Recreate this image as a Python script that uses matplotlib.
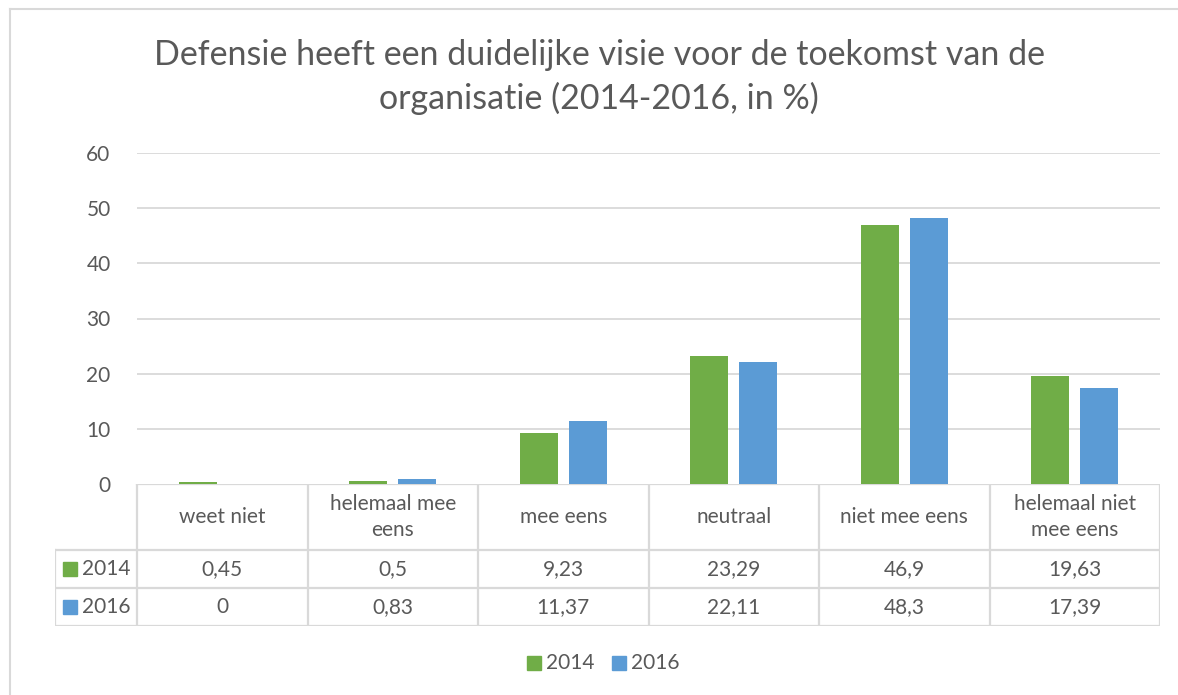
import matplotlib.pyplot as plt
from matplotlib.patches import Rectangle
from matplotlib.lines import Line2D

# Chart data
CATEGORIES = ["weet niet", "helemaal mee\neens", "mee eens", "neutraal",
              "niet mee eens", "helemaal niet\nmee eens"]
SERIES_NAMES = ["2014", "2016"]
VALUES_2014 = [0.45, 0.5, 9.23, 23.29, 46.9, 19.63]
VALUES_2016 = [0, 0.83, 11.37, 22.11, 48.3, 17.39]
LABELS_2014 = ["0,45", "0,5", "9,23", "23,29", "46,9", "19,63"]
LABELS_2016 = ["0", "0,83", "11,37", "22,11", "48,3", "17,39"]
Y_TICKS = [0, 10, 20, 30, 40, 50, 60]

TITLE = "Defensie heeft een duidelijke visie voor de toekomst van de\norganisatie (2014-2016, in %)"
GREEN = "#70ad47"
BLUE = "#5b9bd5"
GRID = "#d9d9d9"
TEXT = "#595959"
FS = 15

plt.rcParams['font.family'] = ['Lato', 'DejaVu Sans']

W, H = 1178, 695
fig = plt.figure(figsize=(W / 100, H / 100), dpi=100)


def fx(px):
    return px / W


def fy(py):
    return 1 - py / H


# chart border (left + top)
fig.add_artist(Line2D([fx(10), fx(10)], [fy(9), 0], color=GRID, lw=1.5))
fig.add_artist(Line2D([fx(10), 1], [fy(9), fy(9)], color=GRID, lw=1.5))

fig.text(fx(599), fy(77), TITLE, ha="center", va="center", fontsize=24.5,
         color=TEXT, linespacing=1.38)

# main plot
ax = fig.add_axes([fx(137), fy(484), fx(1160) - fx(137), fy(153) - fy(484)])
n = len(CATEGORIES)
x = list(range(n))
off = 24.5 / 170.5
bw = 38 / 170.5
ax.bar([i - off for i in x], VALUES_2014, width=bw, color=GREEN, zorder=3)
ax.bar([i + off for i in x], VALUES_2016, width=bw, color=BLUE, zorder=3)
ax.set_xlim(-0.5, n - 0.5)
ax.set_ylim(0, 60)
ax.set_yticks(Y_TICKS)
ax.set_yticklabels([str(t) for t in Y_TICKS], fontsize=FS, color=TEXT)
ax.tick_params(axis="y", length=0, pad=19)
ax.set_xticks([])
for t in Y_TICKS[1:]:
    ax.axhline(t, color=GRID, lw=1.3, zorder=1)
for s in ax.spines.values():
    s.set_visible(False)

# data table below the plot
left_w = 82 / 170.5
tax = fig.add_axes([fx(55), fy(626), fx(1160) - fx(55), fy(484) - fy(626)])
tax.set_xlim(-0.5 - left_w, n - 0.5)
tax.set_ylim(142, 0)
tax.axis("off")
lk = dict(color=GRID, lw=1.6, solid_capstyle="projecting")
# header row top line and vertical lines
tax.plot([-0.5, n - 0.5], [0, 0], **lk)
for b in range(n + 1):
    tax.plot([b - 0.5, b - 0.5], [0, 142], **lk)
for yy in (66, 104, 142):
    tax.plot([-0.5 - left_w, n - 0.5], [yy, yy], **lk)
tax.plot([-0.5 - left_w, -0.5 - left_w], [66, 142], **lk)

for i, cat in enumerate(CATEGORIES):
    tax.text(i, 33, cat, ha="center", va="center", fontsize=FS, color=TEXT,
             linespacing=1.4)
    tax.text(i, 85, LABELS_2014[i], ha="center", va="center", fontsize=FS, color=TEXT)
    tax.text(i, 123, LABELS_2016[i], ha="center", va="center", fontsize=FS, color=TEXT)

for row_y, name, col in ((85, SERIES_NAMES[0], GREEN), (123, SERIES_NAMES[1], BLUE)):
    sx = -0.5 - left_w + 8 / 170.5
    tax.add_patch(Rectangle((sx, row_y - 7), 14 / 170.5, 14, color=col, clip_on=False))
    tax.text(sx + 19 / 170.5, row_y, name, ha="left", va="center", fontsize=FS, color=TEXT)

# legend at bottom
for lx, name, col in ((527, SERIES_NAMES[0], GREEN), (612, SERIES_NAMES[1], BLUE)):
    fig.add_artist(Rectangle((fx(lx), fy(670)), fx(14), 14 / H, color=col))
    fig.text(fx(lx + 19), fy(663), name, ha="left", va="center", fontsize=FS, color=TEXT)

fig.savefig("out.png", dpi=100)
